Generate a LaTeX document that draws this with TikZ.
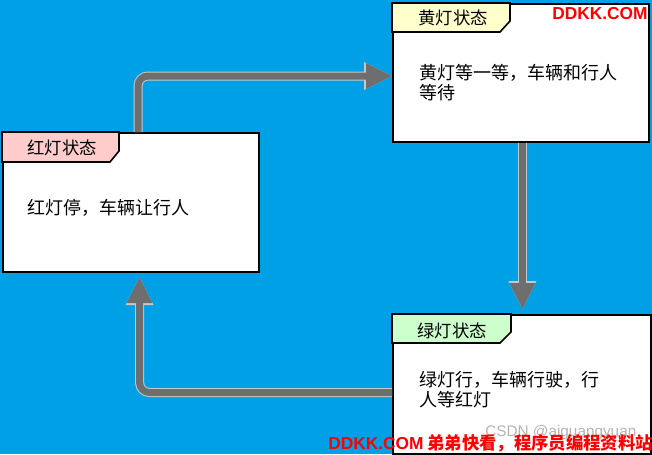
\documentclass[tikz,border=0pt]{standalone}
\usepackage{fontspec}
\setmainfont{Noto Sans CJK SC}
\newfontfamily\cjk{Noto Sans CJK SC}
\newfontfamily\latinsans{Liberation Sans}
\usetikzlibrary{arrows.meta}
\definecolor{bgblue}{HTML}{00A0E6}
\definecolor{redtab}{HTML}{FFCCCC}
\definecolor{yellowtab}{HTML}{FFFFCC}
\definecolor{greentab}{HTML}{CCFFCC}
\definecolor{arrowgray}{HTML}{6E6E6E}
\definecolor{edgegray}{HTML}{C8C8C8}
\definecolor{wmgray}{HTML}{B4B4B4}
\definecolor{wmred}{HTML}{FF0000}
\tikzset{
  statebox/.style={draw=black, line width=1.5pt, fill=white, anchor=north west, inner sep=0pt},
  tabshape/.style={draw=black, line width=1.2pt, line join=miter},
  tabtext/.style={font=\fontsize{13}{15}\selectfont, inner sep=0pt, text=black},
  bodytext/.style={font=\fontsize{13.5}{15}\selectfont, inner sep=0pt, anchor=west, align=left, text=black},
  flow/.style={line width=5.25pt, draw=arrowgray, rounded corners=7.5pt,
    -{Triangle[length=19.5pt,width=19.5pt,line width=0pt]},
    preaction={draw=edgegray, line width=6.75pt, -{Triangle[length=21pt,width=21pt,line width=0pt]}}},
  wmark/.style={inner sep=0pt, anchor=west}
}
\begin{document}
\begin{tikzpicture}[x=0.75pt,y=-0.75pt]
\fill[bgblue] (0,0) rectangle (652,454);
\useasboundingbox (0,0) rectangle (652,454);

% boxes
\node[statebox, minimum width=192pt, minimum height=104.25pt] (red) at (2,132) {};
\node[statebox, minimum width=192pt, minimum height=103.5pt] (yellow) at (392,3) {};
\node[statebox, minimum width=193.5pt, minimum height=104.25pt] (green) at (392,314) {};

% tabs
\draw[tabshape, fill=redtab] (2,132) -- (119,132) -- (119,151) -- (110,162) -- (2,162) -- cycle;
\draw[tabshape, fill=yellowtab] (392,3) -- (510,3) -- (510,21) -- (500,32) -- (392,32) -- cycle;
\draw[tabshape, fill=greentab] (392,314) -- (511,314) -- (511,332) -- (500,343) -- (392,343) -- cycle;

\node[tabtext] (redtitle) at (62,148) {红灯状态};
\node[tabtext] (yellowtitle) at (453,18) {黄灯状态};
\node[tabtext] (greentitle) at (452,331) {绿灯状态};

% body texts
\node[bodytext] (redbody) at (27,208) {红灯停，车辆让行人};
\node[bodytext] (yellowbody) at (419,83) {黄灯等一等，车辆和行人\\等待};
\node[bodytext] (greenbody) at (419,390) {绿灯行，车辆行驶，行\\人等红灯};

% connectors
\draw[flow] ([xshift=5.25pt]red.north) |- ([yshift=-2.25pt]yellow.west);
\draw[flow, shorten >=3.75pt] ([xshift=1.1pt]yellow.south) -- ([xshift=1.1pt]yellow.south |- green.north);
\draw[flow, shorten >=3pt] ([yshift=-6pt]green.west) -| ([xshift=6.4pt]red.south);

% watermarks
\node[wmark, text=wmred, font=\latinsans\bfseries\fontsize{13}{15}\selectfont] (wm1) at (552,14) {DDKK.COM};
\node[wmark, text=wmgray, font=\latinsans\fontsize{11.5}{13}\selectfont] (wm2) at (485,433) {CSDN @aiguangyuan};
\node[wmark, text=wmred, font=\bfseries\fontsize{13}{15}\selectfont] (wm3) at (328,443) {{\latinsans DDKK.COM} 弟弟快看，程序员编程资料站};
\end{tikzpicture}
\end{document}
